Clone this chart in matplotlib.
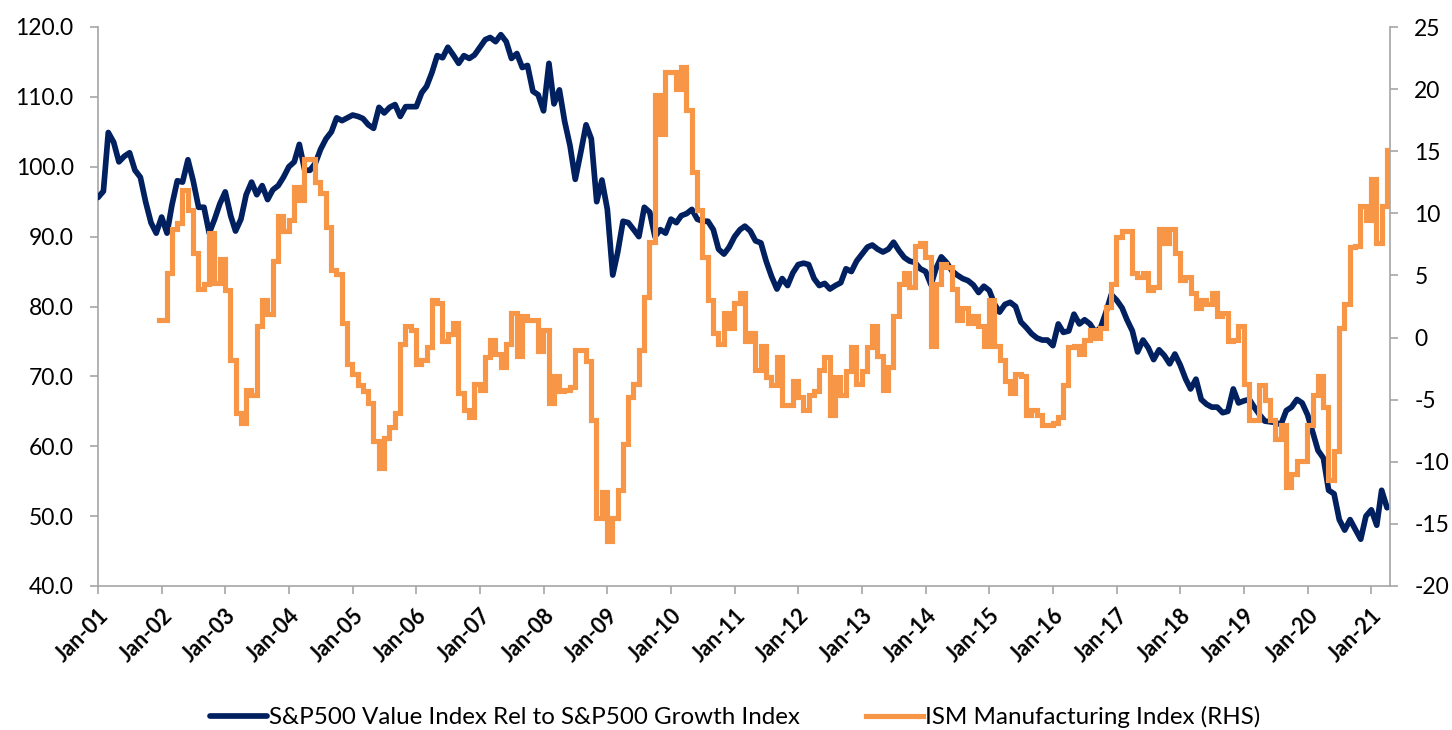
import numpy as np
import pandas as pd
import matplotlib
matplotlib.use("Agg")
import matplotlib.pyplot as plt
import matplotlib.dates as mdates
from matplotlib.ticker import FuncFormatter, MultipleLocator

plt.rcParams['font.family'] = ['Lato', 'DejaVu Sans']

# ---------------- data ----------------
# S&P500 Value Index relative to S&P500 Growth Index, monthly from Jan 2001 (left axis)
value_rel_growth = [
    95.6, 96.5, 104.9, 103.5, 100.7, 101.5, 102.0, 99.5, 98.5, 95.0, 92.0, 90.5,      # 2001
    92.8, 90.5, 94.5, 98.0, 97.8, 101.0, 98.0, 94.2, 94.2, 90.5, 92.5, 94.7,          # 2002
    96.4, 93.0, 90.8, 92.5, 96.0, 97.8, 96.0, 97.3, 95.3, 96.7, 97.3, 98.5,           # 2003
    100.0, 100.7, 103.2, 99.5, 99.5, 100.5, 102.5, 104.0, 105.0, 107.0, 106.6, 107.0, # 2004
    107.4, 107.2, 106.9, 106.0, 105.5, 108.5, 107.7, 108.5, 108.9, 107.2, 108.6, 108.6, # 2005
    108.6, 110.6, 111.5, 113.5, 115.9, 115.6, 117.1, 116.0, 114.8, 115.9, 115.5, 116.0, # 2006
    117.1, 118.2, 118.5, 117.9, 118.9, 117.9, 115.5, 116.2, 114.2, 114.5, 110.8, 110.3, # 2007
    108.0, 114.8, 109.0, 111.0, 106.5, 103.0, 98.2, 102.0, 106.0, 104.0, 95.0, 98.1,  # 2008
    93.9, 84.5, 87.7, 92.2, 92.0, 91.0, 90.0, 94.2, 93.5, 90.0, 91.0, 90.5,           # 2009
    92.5, 92.0, 93.0, 93.3, 93.9, 92.5, 92.2, 92.2, 91.0, 88.2, 87.5, 88.5,           # 2010
    90.0, 91.0, 91.5, 90.8, 89.4, 89.1, 86.5, 84.3, 82.5, 84.0, 83.0, 84.8,           # 2011
    86.0, 86.2, 86.0, 84.0, 83.0, 83.3, 82.5, 83.0, 83.4, 85.4, 85.0, 86.5,           # 2012
    87.5, 88.5, 88.8, 88.2, 87.8, 88.2, 89.2, 88.0, 87.0, 86.5, 86.3, 85.4,           # 2013
    85.0, 83.1, 85.4, 87.1, 86.3, 85.1, 84.5, 84.0, 83.7, 83.1, 82.0, 82.9,           # 2014
    82.3, 80.3, 79.2, 80.3, 80.6, 80.0, 77.8, 77.0, 76.1, 75.5, 75.2, 75.2,           # 2015
    74.4, 77.5, 76.3, 76.5, 78.9, 77.5, 78.1, 77.5, 76.3, 77.0, 79.2, 81.7,           # 2016
    80.9, 79.8, 78.1, 76.5, 73.5, 75.2, 74.1, 72.4, 73.8, 73.0, 71.8, 73.2,           # 2017
    71.6, 69.6, 68.2, 69.6, 66.7, 66.0, 65.6, 65.6, 64.8, 65.0, 68.2, 66.2,           # 2018
    66.5, 66.7, 65.6, 64.5, 63.6, 63.5, 63.4, 63.1, 65.1, 65.6, 66.7, 66.2,           # 2019
    64.5, 61.9, 59.4, 58.3, 53.7, 53.2, 49.5, 48.0, 49.5, 48.1, 46.7, 50.0,           # 2020
    50.9, 48.7, 53.7, 51.2,                                                           # 2021
]
value_start = "2001-01-01"

# ISM Manufacturing Index (RHS), monthly from Dec 2001
ism_manufacturing = [
    1.4,                                                                  # Dec 2001
    1.4, 5.2, 8.7, 9.2, 11.9, 10.3, 6.8, 3.9, 4.3, 8.4, 4.4, 6.3,          # 2002
    3.8, -1.8, -6.1, -6.9, -4.2, -4.6, 0.9, 3.0, 1.9, 6.2, 9.8, 8.6,       # 2003
    9.5, 12.1, 11.1, 14.4, 14.4, 12.5, 11.6, 8.9, 5.4, 5.1, 1.2, -2.1,     # 2004
    -2.9, -3.8, -4.3, -5.3, -8.3, -10.5, -8.1, -7.2, -6.1, -0.5, 0.9, 0.6, # 2005
    -2.1, -1.8, -0.8, 3.0, 2.8, -0.3, 0.3, 1.2, -4.5, -5.8, -6.4, -3.7,    # 2006
    -4.2, -1.6, -0.2, -1.3, -2.4, -0.5, 2.0, -1.5, 1.7, 1.4, 1.4, -1.1,    # 2007
    0.6, -5.3, -3.1, -4.3, -4.2, -4.0, -1.0, -1.0, -1.9, -6.6, -14.5, -12.4, # 2008
    -16.4, -14.5, -12.3, -8.6, -4.8, -3.7, -1.0, 3.3, 7.7, 19.5, 16.4, 21.4, # 2009
    21.4, 20.0, 21.8, 18.3, 13.3, 10.3, 6.5, 3.0, 0.4, -0.5, 2.0, 0.8,     # 2010
    2.8, 3.6, -0.3, 0.4, -2.6, -0.7, -3.2, -3.8, -1.6, -5.4, -5.4, -3.5,   # 2011
    -4.8, -5.8, -4.6, -4.3, -2.6, -1.6, -6.2, -3.2, -4.6, -2.7, -0.8, -3.7, # 2012
    -2.7, -0.8, 0.9, -1.5, -4.2, -2.4, 1.7, 4.3, 5.2, 4.1, 7.4, 7.6,       # 2013
    6.5, -0.7, 4.3, 5.9, 5.7, 3.9, 1.4, 2.4, 1.2, 1.7, 0.9, -0.7,          # 2014
    3.0, -0.7, -1.8, -3.5, -4.5, -2.9, -3.1, -6.2, -5.8, -6.2, -7.0, -7.0, # 2015
    -6.9, -6.4, -3.8, -0.8, -0.7, -1.3, -0.2, 0.6, 0.0, 0.8, 2.5, 4.3,     # 2016
    8.1, 8.6, 8.6, 5.2, 4.9, 5.2, 3.8, 4.1, 8.7, 7.6, 8.7, 6.8,            # 2017
    4.6, 4.9, 3.6, 2.4, 3.0, 2.7, 3.6, 1.7, 2.0, -0.3, -0.2, 0.9,          # 2018
    -3.7, -6.6, -6.6, -3.8, -5.0, -6.6, -8.2, -7.0, -12.0, -11.0, -9.9, -9.9, # 2019
    -7.0, -4.6, -3.1, -5.6, -11.5, -9.1, 0.8, 2.7, 7.3, 7.4, 10.6, 9.5,    # 2020
    12.8, 7.6, 10.6, 15.1,                                                 # 2021
]
ism_start = "2001-12-01"

years = list(range(2001, 2022))
xtick_labels = [f"Jan-{y % 100:02d}" for y in years]

label_value = "S&P500 Value Index Rel to S&P500 Growth Index"
label_ism = "ISM Manufacturing Index (RHS)"

NAVY = "#002060"
ORANGE = "#F79646"
GRID = "#A6A6A6"

# ---------------- figure ----------------
W, H = 1452, 730
fig = plt.figure(figsize=(W / 100, H / 100), dpi=100)
left, right, top, bottom = 98 / W, 1390 / W, 1 - 27 / H, 1 - 586 / H
ax = fig.add_axes([left, bottom, right - left, top - bottom])
ax2 = ax.twinx()

dates_v = pd.date_range(value_start, periods=len(value_rel_growth), freq="MS")
dates_i = pd.date_range(ism_start, periods=len(ism_manufacturing), freq="MS") + pd.Timedelta(days=14)

ax.plot(dates_v, value_rel_growth, color=NAVY, lw=4.1, solid_joinstyle="round",
        solid_capstyle="round", label=label_value, zorder=3)
ax2.plot(dates_i, ism_manufacturing, color=ORANGE, lw=3.7, drawstyle="steps-mid",
         solid_joinstyle="miter", label=label_ism, zorder=3)

ax.set_xlim(pd.Timestamp("2001-01-01"), pd.Timestamp("2021-04-18"))
ax.set_ylim(40, 120)
ax2.set_ylim(-20, 25)
ax.yaxis.set_major_locator(MultipleLocator(10))
ax2.yaxis.set_major_locator(MultipleLocator(5))
ax.yaxis.set_major_formatter(FuncFormatter(lambda v, p: f"{v:.1f}"))
ax2.yaxis.set_major_formatter(FuncFormatter(lambda v, p: f"{v:.0f}"))

ax.set_xticks([pd.Timestamp(f"{y}-01-01") for y in years])
ax.set_xticklabels(xtick_labels, rotation=45, ha="right", va="top",
                   rotation_mode="anchor", fontsize=15.5, fontweight="bold")

for a in (ax, ax2):
    for s in a.spines.values():
        s.set_color(GRID)
        s.set_linewidth(1.2)
    a.spines["top"].set_visible(False)
ax.spines["right"].set_visible(False)
ax2.spines["left"].set_visible(False)
ax2.spines["bottom"].set_visible(False)

ax.tick_params(axis="y", direction="out", length=5.5, width=1.2, color=GRID,
               labelsize=16.5, pad=12)
ax.tick_params(axis="x", direction="out", length=5.5, width=1.2, color=GRID, pad=8)
ax2.tick_params(axis="y", direction="out", length=5.5, width=1.2, color=GRID,
                labelsize=16.5, pad=12)
ax.grid(False)
ax2.grid(False)

h1, l1 = ax.get_legend_handles_labels()
h2, l2 = ax2.get_legend_handles_labels()
fig.legend(h1 + h2, l1 + l2, loc="center", bbox_to_anchor=(735 / W, 1 - 717 / H),
           ncol=2, frameon=False, fontsize=17.4, handlelength=2.35,
           handletextpad=0.08, columnspacing=2.75)

fig.savefig("out.png", dpi=100)
